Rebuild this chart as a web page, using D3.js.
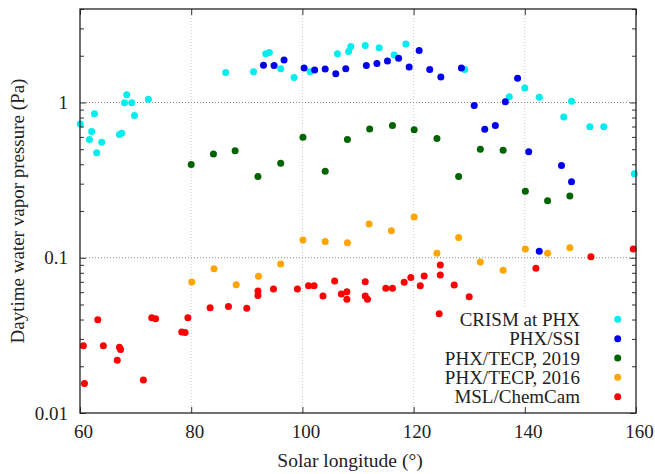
<!DOCTYPE html>
<html>
<head>
<meta charset="utf-8">
<script src="https://cdn.jsdelivr.net/npm/d3@7"></script>
<style>
  body { margin: 0; background: #fff; }
  text { font-family: "Liberation Serif", "Times New Roman", serif; fill: #222; }
</style>
</head>
<body>
<div id="chart"></div>
<script>
// solar longitude (deg) / water vapor pressure (Pa)
var crismLs = [60.05, 61.7, 62.1, 62.6, 63.0, 63.9, 67.1, 67.5, 68.0, 68.4, 69.3, 69.8, 72.3,
  86.2, 91.2, 93.4, 94.05, 96.1, 98.5, 101.4, 106.3, 108.3, 108.7, 111.3, 113.8, 116.5, 118.6,
  129.2, 137.2, 140.0, 142.6, 147.0, 148.4, 151.7, 154.2, 159.7];
var crismP = [0.726, 0.577, 0.65, 0.845, 0.474, 0.555, 0.622, 0.634, 0.996, 1.12, 0.996, 0.824, 1.05,
  1.56, 1.58, 2.06, 2.10, 1.65, 1.45, 1.58, 2.06, 2.13, 2.29, 2.33, 2.25, 2.02, 2.38,
  1.63, 1.09, 1.24, 1.08, 0.805, 1.02, 0.697, 0.697, 0.348];

var ssiLs = [93.0, 94.9, 96.7, 100.3, 102.2, 104.1, 106.0, 107.8, 111.5, 113.4, 115.3, 117.3, 119.2,
  121.0, 122.9, 124.9, 128.6, 130.9, 132.8, 134.7, 136.5, 138.7, 140.7, 142.6, 146.6, 148.4];
var ssiP = [1.74, 1.73, 1.88, 1.67, 1.62, 1.64, 1.53, 1.65, 1.73, 1.78, 1.85, 1.93, 1.69,
  2.16, 1.63, 1.46, 1.67, 0.956, 0.673, 0.711, 1.01, 1.43, 0.481, 0.110, 0.392, 0.309];

var tecp19Ls = [80.0, 84.0, 87.9, 92.0, 96.1, 100.1, 104.1, 108.1, 112.1, 116.2, 120.1, 124.2,
  128.1, 132.0, 136.1, 140.1, 144.1, 148.1];
var tecp19P = [0.398, 0.465, 0.488, 0.333, 0.406, 0.598, 0.361, 0.577, 0.676, 0.711, 0.667, 0.586,
  0.333, 0.5, 0.493, 0.268, 0.233, 0.25];

var tecp16Ls = [80.1, 84.1, 88.1, 92.1, 96.1, 100.1, 104.1, 108.1, 112.0, 116.0, 120.1, 124.2,
  128.1, 132.0, 136.1, 140.1, 144.1, 148.1];
var tecp16P = [0.0697, 0.085, 0.067, 0.0759, 0.091, 0.130, 0.127, 0.125, 0.165, 0.149, 0.183, 0.107,
  0.135, 0.094, 0.083, 0.114, 0.107, 0.116];

var mslLs = [60.6, 60.8, 63.2, 64.2, 66.7, 67.1, 67.3, 71.4, 72.9, 73.6, 78.3, 78.9, 79.4, 83.4,
  86.7, 90.0, 92.0, 92.0, 94.8, 99.1, 101.1, 102.1, 103.7, 105.8, 107.0, 108.0, 108.0, 111.3,
  111.3, 111.7, 115.0, 116.2, 118.3, 119.5, 121.2, 121.9, 124.6, 124.8, 124.8, 127.3, 130.0,
  142.0, 151.9, 159.5];
var mslP = [0.0271, 0.0155, 0.0398, 0.0271, 0.0219, 0.0265, 0.0256, 0.0163, 0.041, 0.0404, 0.0333,
  0.033, 0.041, 0.0476, 0.0486, 0.0473, 0.061, 0.0572, 0.0628, 0.0628, 0.066, 0.066, 0.0566,
  0.0708, 0.0583, 0.0604, 0.054, 0.070, 0.0566, 0.054, 0.0635, 0.0635, 0.0694, 0.0747, 0.066,
  0.0762, 0.0435, 0.0897, 0.0773, 0.0667, 0.056, 0.0855, 0.1015, 0.114];

var seriesNames = ["CRISM at PHX", "PHX/SSI", "PHX/TECP, 2019", "PHX/TECP, 2016", "MSL/ChemCam"];
var seriesColors = ["#00eeee", "#0000ee", "#006400", "#ffa500", "#ff0000"];
var xTicks = [60, 80, 100, 120, 140, 160];
var yTicks = [0.01, 0.1, 1];

function drawChart() {
  var series = [
    {name: seriesNames[0], color: seriesColors[0], x: crismLs, y: crismP},
    {name: seriesNames[1], color: seriesColors[1], x: ssiLs, y: ssiP},
    {name: seriesNames[2], color: seriesColors[2], x: tecp19Ls, y: tecp19P},
    {name: seriesNames[3], color: seriesColors[3], x: tecp16Ls, y: tecp16P},
    {name: seriesNames[4], color: seriesColors[4], x: mslLs, y: mslP}
  ];

  var width = 655, height = 474;
  var margin = {top: 9, right: 19, bottom: 61, left: 80};
  var w = width - margin.left - margin.right,
      h = height - margin.top - margin.bottom;

  var svg = d3.select('#chart').append('svg')
    .attr("width", width)
    .attr("height", height);

  var g = svg.append("g")
    .attr("transform", "translate(" + margin.left + "," + margin.top + ")");

  var x = d3.scaleLinear().domain([60, 160]).range([0, w]);
  var y = d3.scaleLog().domain([0.01, 4]).range([h, 0]);

  // minor ticks 2..9 in each decade
  var minor = [];
  [0.01, 0.1, 1].forEach(function(d) {
    for (var k = 2; k <= 9; k++) { if (d * k <= 4) minor.push(d * k); }
  });

  // grid
  g.selectAll(".vgrid").data(xTicks.slice(1, -1)).enter().append("line")
    .attr("x1", d => x(d)).attr("x2", d => x(d))
    .attr("y1", 0).attr("y2", h)
    .attr("stroke", "#c8c8c8").attr("stroke-width", 1)
    .attr("stroke-dasharray", "1,2");
  g.selectAll(".hgrid").data([0.1, 1]).enter().append("line")
    .attr("x1", 0).attr("x2", w)
    .attr("y1", d => y(d)).attr("y2", d => y(d))
    .attr("stroke", "#888").attr("stroke-width", 1)
    .attr("stroke-dasharray", "1,2");

  // opaque key box
  var keyTop = 309 - margin.top;
  g.append("rect")
    .attr("x", 430 - margin.left).attr("y", keyTop)
    .attr("width", w - (430 - margin.left)).attr("height", h - keyTop)
    .attr("fill", "#fff");

  // points
  series.forEach(function(s) {
    g.append("g").selectAll("circle")
      .data(s.x.map((v, i) => [v, s.y[i]]))
      .enter().append("circle")
        .attr("cx", d => x(d[0]))
        .attr("cy", d => y(d[1]))
        .attr("r", 3.5)
        .attr("fill", s.color);
  });

  // axes (ticks inward, mirrored)
  var axB = g.append("g").attr("transform", "translate(0," + h + ")")
    .call(d3.axisBottom(x).tickValues(xTicks).tickSize(-6).tickPadding(12).tickFormat(d3.format("d")));
  axB.selectAll("text").attr("dx", 3);
  var axT = g.append("g")
    .call(d3.axisTop(x).tickValues(xTicks).tickSize(-6).tickFormat(""));
  var axL = g.append("g")
    .call(d3.axisLeft(y).tickValues(yTicks).tickSize(-6).tickPadding(12).tickFormat(d => d));
  var axLm = g.append("g")
    .call(d3.axisLeft(y).tickValues(minor).tickSize(-4).tickFormat(""));
  var axR = g.append("g").attr("transform", "translate(" + w + ",0)")
    .call(d3.axisRight(y).tickValues(yTicks).tickSize(-6).tickFormat(""));
  var axRm = g.append("g").attr("transform", "translate(" + w + ",0)")
    .call(d3.axisRight(y).tickValues(minor).tickSize(-4).tickFormat(""));

  [axB, axT, axL, axLm, axR, axRm].forEach(function(a) {
    a.select(".domain").remove();
    a.selectAll("line").attr("stroke", "#333");
    a.selectAll("text").style("font-size", "19px").attr("fill", "#222")
      .style("font-family", '"Liberation Serif", serif');
  });

  g.append("rect")
    .attr("width", w).attr("height", h)
    .attr("fill", "none").attr("stroke", "#222").attr("stroke-width", 1.3);

  // axis titles
  svg.append("text")
    .attr("text-anchor", "middle")
    .style("font-size", "19.5px")
    .attr("transform", "translate(350,467)")
    .text("Solar longitude (°)");
  svg.append("text")
    .attr("text-anchor", "middle")
    .style("font-size", "19px")
    .attr("transform", "translate(24," + (margin.top + h / 2) + ") rotate(-90)")
    .text("Daytime water vapor pressure (Pa)");

  // key
  var key = svg.append("g").selectAll("g")
    .data(series).enter().append("g")
    .attr("transform", (d, i) => "translate(0," + (319.3 + i * 19.35) + ")");
  key.append("text")
    .attr("x", 580).attr("dy", "0.35em")
    .attr("text-anchor", "end")
    .style("font-size", "19px")
    .text(d => d.name);
  key.append("circle")
    .attr("cx", 617.7).attr("r", 3.5)
    .attr("fill", d => d.color);
}

drawChart();
</script>
</body>
</html>
